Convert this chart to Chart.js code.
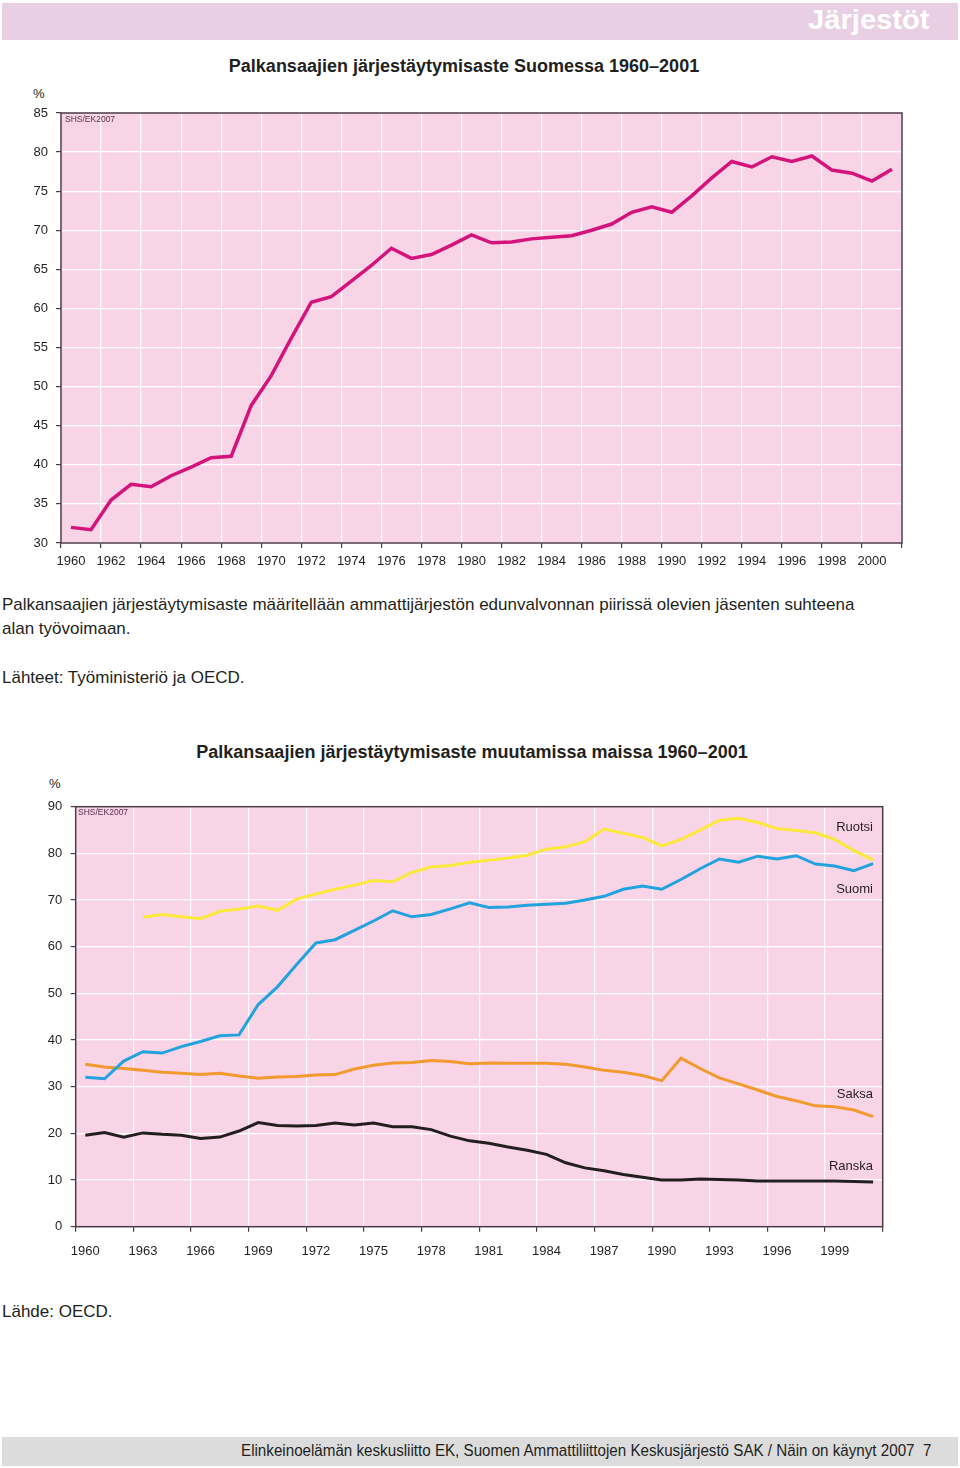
<!DOCTYPE html>
<html>
<head>
<meta charset="utf-8">
<script src="https://cdn.jsdelivr.net/npm/chart.js@4"></script>
<style>
body { margin: 0; width: 960px; height: 1468px; position: relative; background: #fff; overflow: hidden;
       font-family: "Liberation Sans", Arial, sans-serif; color: #231f20; }
.abs { position: absolute; white-space: nowrap; }
.band { position: absolute; left: 2px; width: 956px; }
.title { font-weight: bold; font-size: 18px; line-height: 22px; transform: translateX(-50%); }
.note { font-size: 8.5px; color: #5a2f4e; line-height: 10px; }
.small { font-size: 13px; line-height: 16px; }
.txt { font-size: 17px; line-height: 24px; }
.lab { font-size: 13px; line-height: 16px; text-align: right; }
</style>
</head>
<body>
<div class="band" style="top:3px;height:37px;background:#e9cfe3;"></div>
<div class="abs fit" data-w="122" style="right:30px;top:4px;font-size:27px;line-height:32px;font-weight:bold;color:#fff;transform-origin:right center;">Järjestöt</div>

<div class="abs title" style="left:464px;top:55px;">Palkansaajien järjestäytymisaste Suomessa 1960–2001</div>
<div class="abs small" style="left:33px;top:86px;">%</div>
<div class="abs" style="left:0;top:80px;width:960px;height:500px;"><canvas id="chart1" width="960" height="500"></canvas></div>
<div class="abs note" style="left:65px;top:114px;">SHS/EK2007</div>

<div class="abs txt fit" data-w="852" style="left:2px;top:593px;transform-origin:left center;">Palkansaajien järjestäytymisaste määritellään ammattijärjestön edunvalvonnan piirissä olevien jäsenten suhteena</div>
<div class="abs txt" style="left:2px;top:617px;">alan työvoimaan.</div>
<div class="abs txt" style="left:2px;top:666px;">Lähteet: Työministeriö ja OECD.</div>

<div class="abs title" style="left:472px;top:741px;">Palkansaajien järjestäytymisaste muutamissa maissa 1960–2001</div>
<div class="abs small" style="left:49px;top:776px;">%</div>
<div class="abs" style="left:0;top:770px;width:960px;height:500px;"><canvas id="chart2" width="960" height="500"></canvas></div>
<div class="abs note" style="left:78px;top:807px;">SHS/EK2007</div>
<div id="seriesLabels"></div>

<div class="abs txt" style="left:2px;top:1300px;">Lähde: OECD.</div>

<div class="band" style="top:1437px;height:29px;background:#dcdcdc;"></div>
<div class="abs fit" data-w="690" style="right:29px;top:1442px;font-size:16px;line-height:18px;transform-origin:right center;">Elinkeinoelämän keskusliitto EK, Suomen Ammattiliittojen Keskusjärjestö SAK / Näin on käynyt 2007&nbsp;&nbsp;7</div>

<script>
// years 1960-2001
const years = ['1960','1961','1962','1963','1964','1965','1966','1967','1968','1969',
               '1970','1971','1972','1973','1974','1975','1976','1977','1978','1979',
               '1980','1981','1982','1983','1984','1985','1986','1987','1988','1989',
               '1990','1991','1992','1993','1994','1995','1996','1997','1998','1999',
               '2000','2001'];

const suomi = [32.0, 31.7, 35.5, 37.5, 37.2, 38.6, 39.7, 40.9, 41.1, 47.6,
               51.4, 56.2, 60.8, 61.5, 63.5, 65.5, 67.7, 66.4, 66.9, 68.1,
               69.4, 68.4, 68.5, 68.9, 69.1, 69.3, 70.0, 70.8, 72.3, 73.0,
               72.3, 74.4, 76.7, 78.8, 78.1, 79.4, 78.8, 79.5, 77.7, 77.3,
               76.3, 77.8];

const ruotsi = [null, null, null, 66.3, 66.9, 66.4, 66.0, 67.6, 68.1, 68.7,
                67.8, 70.2, 71.3, 72.3, 73.2, 74.2, 73.9, 75.9, 77.1, 77.4,
                78.1, 78.5, 79.0, 79.6, 80.9, 81.4, 82.5, 85.2, 84.3, 83.4,
                81.6, 83.0, 85.0, 87.1, 87.5, 86.6, 85.3, 84.9, 84.4, 83.0,
                80.6, 78.6];

const saksa = [34.8, 34.2, 33.9, 33.5, 33.1, 32.9, 32.6, 32.9, 32.3, 31.8,
               32.1, 32.2, 32.5, 32.6, 33.8, 34.6, 35.1, 35.2, 35.6, 35.4,
               34.9, 35.1, 35.0, 35.0, 35.0, 34.8, 34.2, 33.5, 33.1, 32.4,
               31.3, 36.1, 33.9, 31.9, 30.6, 29.3, 27.9, 27.0, 25.9, 25.7,
               25.0, 23.6];

const ranska = [19.6, 20.2, 19.2, 20.1, 19.8, 19.6, 18.9, 19.2, 20.5, 22.3,
                21.7, 21.6, 21.7, 22.2, 21.8, 22.2, 21.4, 21.4, 20.8, 19.4,
                18.4, 17.9, 17.1, 16.4, 15.5, 13.7, 12.6, 12.0, 11.2, 10.6,
                10.0, 10.0, 10.2, 10.1, 10.0, 9.8, 9.8, 9.8, 9.8, 9.8,
                9.7, 9.6];

const seriesNames = ['Ruotsi', 'Suomi', 'Saksa', 'Ranska'];
const seriesColors = ['#fbe83c', '#22a3dd', '#f29a30', '#231f20'];
const seriesData = [ruotsi, suomi, saksa, ranska];

const AXIS = '#4b3b47';
const PLOT_BG = '#f8d4e6';

Chart.defaults.font.family = '"Liberation Sans", Arial, sans-serif';
Chart.defaults.font.size = 13;
Chart.defaults.color = '#231f20';

const plotFrame = {
    id: 'plotFrame',
    beforeDraw(chart) {
        const a = chart.chartArea;
        const c = chart.ctx;
        c.save();
        c.fillStyle = PLOT_BG;
        c.fillRect(a.left, a.top, a.right - a.left, a.bottom - a.top);
        c.restore();
    },
    afterDraw(chart) {
        const a = chart.chartArea;
        const c = chart.ctx;
        c.save();
        c.strokeStyle = AXIS;
        c.lineWidth = 1.5;
        c.strokeRect(a.left, a.top, a.right - a.left, a.bottom - a.top);
        c.restore();
    }
};

function xAxis(every, axisHeight, pad) {
    const shown = ctx => ((ctx.index === undefined ? 0 : ctx.index) % every === 0);
    return {
        type: 'category',
        offset: true,
        border: { display: false },
        grid: {
            offset: true,
            lineWidth: 1.2,
            tickLength: 5,
            color: ctx => shown(ctx) ? '#ffffff' : 'rgba(0,0,0,0)',
            tickColor: ctx => shown(ctx) ? AXIS : 'rgba(0,0,0,0)'
        },
        ticks: {
            autoSkip: false,
            maxRotation: 0,
            minRotation: 0,
            padding: pad,
            callback: function (v, i) {
                return i % every === 0 ? this.getLabelForValue(v) : '';
            }
        },
        afterFit(s) { s.height = axisHeight; }
    };
}

function yAxis(min, max, step, axisWidth, pad) {
    return {
        min: min,
        max: max,
        border: { display: false },
        grid: { color: '#ffffff', lineWidth: 1.2, tickLength: 5, tickColor: AXIS },
        ticks: { stepSize: step, padding: pad },
        afterFit(s) { s.width = axisWidth; }
    };
}

new Chart(document.getElementById('chart1'), {
    type: 'line',
    data: {
        labels: years,
        datasets: [{
            label: 'Suomi',
            data: suomi,
            borderColor: '#d4137c',
            borderWidth: 3.5,
            pointRadius: 0,
            tension: 0
        }]
    },
    options: {
        responsive: false,
        animation: false,
        layout: { padding: { top: 33, right: 58, left: 0, bottom: 0 } },
        plugins: { legend: { display: false }, tooltip: { enabled: false } },
        scales: {
            x: xAxis(2, 37, 6),
            y: yAxis(30, 85, 5, 61, 8)
        }
    },
    plugins: [plotFrame]
});

new Chart(document.getElementById('chart2'), {
    type: 'line',
    data: {
        labels: years,
        datasets: seriesNames.map((name, i) => ({
            label: name,
            data: seriesData[i],
            borderColor: seriesColors[i],
            borderWidth: 3,
            pointRadius: 0,
            tension: 0,
            spanGaps: false
        }))
    },
    options: {
        responsive: false,
        animation: false,
        layout: { padding: { top: 36.7, right: 77.3, left: 0, bottom: 0 } },
        plugins: { legend: { display: false }, tooltip: { enabled: false } },
        scales: {
            x: xAxis(3, 43.3, 12),
            y: yAxis(0, 90, 10, 75.7, 8.5)
        }
    },
    plugins: [plotFrame]
});

// end labels of the series in the second chart
const labelTops = [819, 881, 1086, 1158];
const holder = document.getElementById('seriesLabels');
seriesNames.forEach((name, i) => {
    const d = document.createElement('div');
    d.className = 'abs lab';
    d.style.right = (960 - 873) + 'px';
    d.style.top = labelTops[i] + 'px';
    d.textContent = name;
    holder.appendChild(d);
});

// squeeze texts to the width seen in the picture
document.querySelectorAll('.fit').forEach(el => {
    const w = parseFloat(el.dataset.w);
    el.style.transform = 'scaleX(' + (w / el.offsetWidth) + ')';
});
</script>
</body>
</html>
